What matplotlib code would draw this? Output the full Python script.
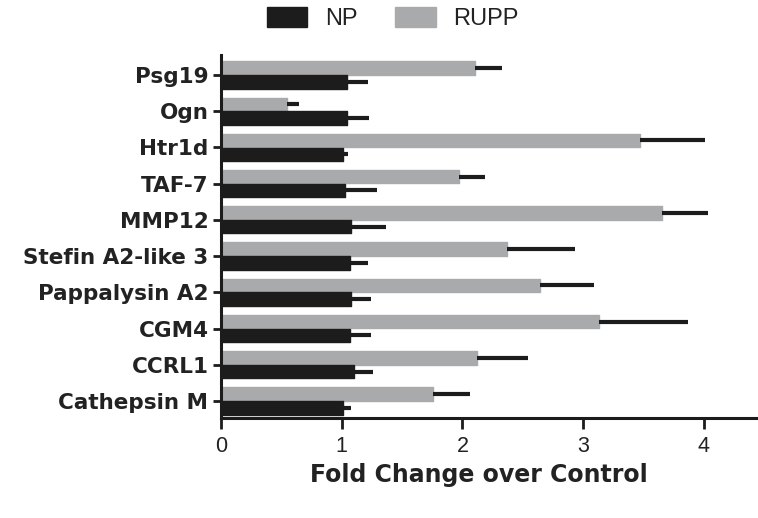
import matplotlib
matplotlib.use("Agg")
import matplotlib.pyplot as plt
import numpy as np

genes = ["Psg19", "Ogn", "Htr1d", "TAF-7", "MMP12", "Stefin A2-like 3",
         "Pappalysin A2", "CGM4", "CCRL1", "Cathepsin M"]
np_mean = [1.04, 1.04, 1.01, 1.03, 1.08, 1.07, 1.08, 1.07, 1.10, 1.01]
np_err = [0.18, 0.19, 0.04, 0.26, 0.29, 0.15, 0.16, 0.17, 0.16, 0.07]
rupp_mean = [2.10, 0.55, 3.47, 1.97, 3.65, 2.37, 2.64, 3.13, 2.12, 1.76]
rupp_err = [0.23, 0.10, 0.54, 0.22, 0.38, 0.56, 0.45, 0.74, 0.42, 0.30]
xticks = [0, 1, 2, 3, 4]

plt.rcParams['font.family'] = ['Liberation Sans', 'DejaVu Sans']

fig = plt.figure(figsize=(7.58, 5.18), dpi=100)
ax = fig.add_axes([221/758, 1 - 418/518, (757-221)/758, (418-55)/518])

n = len(genes)
pos = np.arange(n)[::-1]
h = 0.37
off = 0.19
black = '#1c1c1c'
gray = '#a9aaac'
txt = '#222222'

ax.barh(pos + off, rupp_mean, height=h, color=gray, label='RUPP', zorder=2,
        edgecolor=gray, linewidth=1, joinstyle='round')
ax.barh(pos - off, np_mean, height=h, color=black, label='NP', zorder=2,
        edgecolor=black, linewidth=1, joinstyle='round')
ax.errorbar(rupp_mean, pos + off, xerr=[np.zeros(n), rupp_err], fmt='none',
            ecolor=black, elinewidth=3, capsize=0, zorder=3)
ax.errorbar(np_mean, pos - off, xerr=[np.zeros(n), np_err], fmt='none',
            ecolor=black, elinewidth=3, capsize=0, zorder=3)

ax.set_xlim(0, 4.44)
ax.set_ylim(-0.47, 9.55)
ax.set_yticks(pos)
ax.set_yticklabels(genes, fontsize=15.5, fontweight='bold', color=txt,
                   family=['DejaVu Sans'])
ax.set_xticks(xticks)
ax.set_xticklabels([str(t) for t in xticks], fontsize=15.5, color=txt)
ax.set_xlabel('Fold Change over Control', fontsize=17, fontweight='bold',
              color=txt, labelpad=4, family=['DejaVu Sans'],
              x=(479 - 221) / 536)

for s in ['top', 'right']:
    ax.spines[s].set_visible(False)
for s in ['left', 'bottom']:
    ax.spines[s].set_linewidth(2.2)
    ax.spines[s].set_color(black)
ax.tick_params(axis='y', length=6, width=2, color=black, pad=3)
ax.tick_params(axis='x', length=8, width=2, color=black, pad=5)

handles, labels = ax.get_legend_handles_labels()
leg = fig.legend(handles[::-1], labels[::-1], loc='upper center',
                 bbox_to_anchor=(393/758, 1.027), ncol=2, frameon=False,
                 fontsize=17, handlelength=1.7, handleheight=0.9,
                 columnspacing=1.6, handletextpad=0.75)
for t in leg.get_texts():
    t.set_color(txt)

fig.savefig('out.png', dpi=100)
